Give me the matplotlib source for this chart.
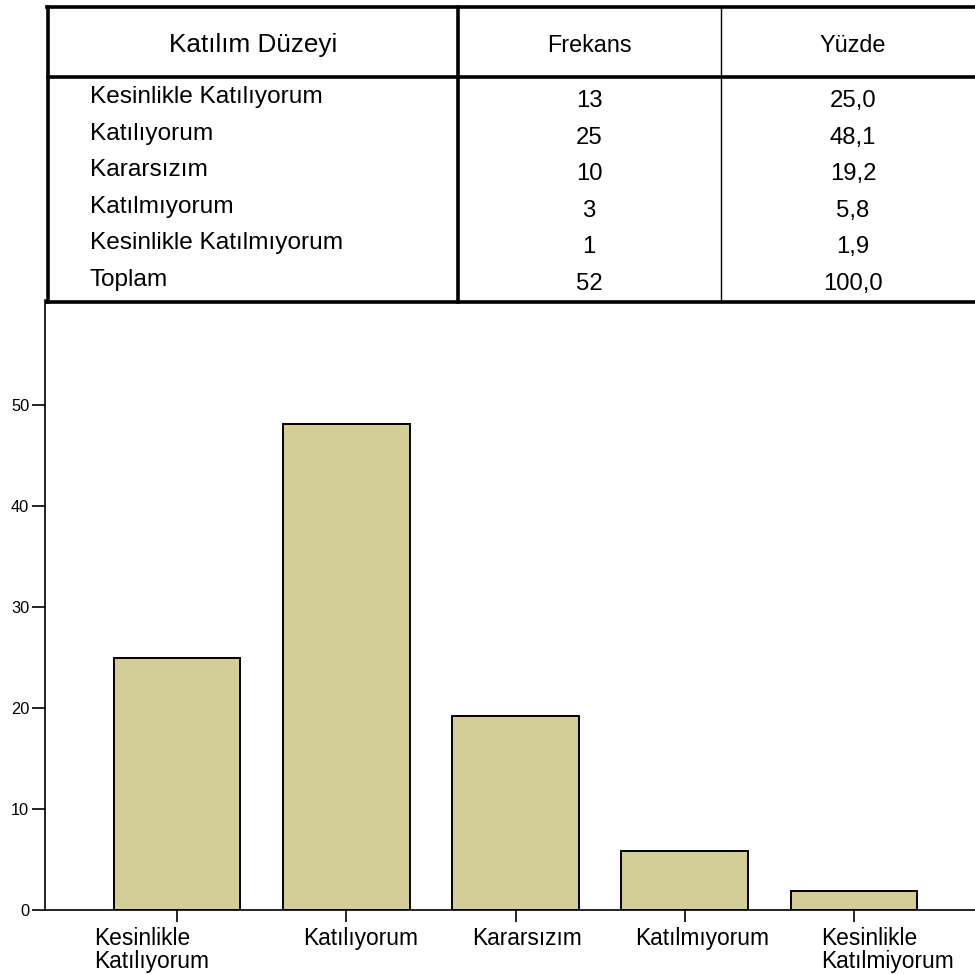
"""
Katılım düzeyi: frekans tablosu ve yüzde dağılımı bar grafiği.
"""

import matplotlib
matplotlib.use('Agg')
import matplotlib.pyplot as plt
from matplotlib.lines import Line2D
from matplotlib.transforms import ScaledTranslation

plt.rcParams['font.family'] = ['Liberation Sans', 'DejaVu Sans']

# Data
levels = ['Kesinlikle Katılıyorum', 'Katılıyorum', 'Kararsızım',
          'Katılmıyorum', 'Kesinlikle Katılmıyorum']
freq = [13, 25, 10, 3, 1]
percent = [25.0, 48.1, 19.2, 5.8, 1.9]
total_label = 'Toplam'
total_freq = 52
total_pct = 100.0
tick_labels = ['Kesinlikle\nKatılıyorum', 'Katılıyorum', 'Kararsızım',
               'Katılmıyorum', 'Kesinlikle\nKatılmiyorum']
y_ticks = [0, 10, 20, 30, 40, 50]

W, H = 975, 974


def fx(x):
    return x / W


def fy(y):
    return 1 - y / H


def fmt(v):
    return f"{v:.1f}".replace('.', ',')


fig = plt.figure(figsize=(W / 100, H / 100), dpi=100)

# --- table ---
thick = 2.6
thin = 1.0
table_lines = [
    ((47, 975), (7, 7), thick),      # top
    ((48, 48), (7, 302), thick),     # left
    ((48, 975), (77, 77), thick),    # under header
    ((458, 458), (7, 302), thick),   # first column separator
    ((721, 721), (7, 302), thin),    # second column separator
    ((47, 975), (302, 302), thick),  # bottom
]
for xs, ys, lw in table_lines:
    fig.add_artist(Line2D([fx(x) for x in xs], [fy(y) for y in ys],
                          color='black', linewidth=lw, solid_capstyle='projecting'))

fig.text(fx(253), fy(52), 'Katılım Düzeyi', fontsize=18.8, ha='center', va='baseline')
fig.text(fx(589), fy(52), 'Frekans', fontsize=16.8, ha='center', va='baseline')
fig.text(fx(853), fy(52), 'Yüzde', fontsize=16.8, ha='center', va='baseline')

rows = list(zip(levels + [total_label], freq + [total_freq], percent + [total_pct]))
for i, (name, f, p) in enumerate(rows):
    base = 103 + 36.6 * i
    fig.text(fx(90), fy(base), name, fontsize=17.6, ha='left', va='baseline')
    fig.text(fx(589), fy(base + 4), str(f), fontsize=17.2, ha='center', va='baseline')
    fig.text(fx(853), fy(base + 4), fmt(p), fontsize=17.2, ha='center', va='baseline')

# --- bar chart ---
ax = fig.add_axes([fx(44.5), fy(910), 1 - fx(44.5), (910 - 300) / H])
x = list(range(len(percent)))
ax.bar(x, percent, width=0.75, color='#D3CE98', edgecolor='black', linewidth=1.4)
ax.set_xlim(-0.783, 4.715)
ax.set_ylim(0, 60.4)

for side in ('top', 'right'):
    ax.spines[side].set_visible(False)
for side in ('left', 'bottom'):
    ax.spines[side].set_linewidth(1.2)

ax.set_yticks(y_ticks)
ax.set_yticklabels([str(t) for t in y_ticks])
ax.tick_params(axis='y', length=9.4, width=1.2, pad=1.5, labelsize=11.8)

ax.set_xticks(x)
ax.set_xticklabels(tick_labels, multialignment='left', linespacing=1.0)
ax.tick_params(axis='x', length=8.6, width=1.2, pad=3.5, labelsize=16.4)

# SPSS-style label placement, nudged a bit off the tick centers
nudges = [-25, 14, 11, 17, 34]
for lbl, dx in zip(ax.get_xticklabels(), nudges):
    lbl.set_transform(lbl.get_transform() + ScaledTranslation(dx / 100, 0, fig.dpi_scale_trans))

fig.savefig('out.png', dpi=100)
